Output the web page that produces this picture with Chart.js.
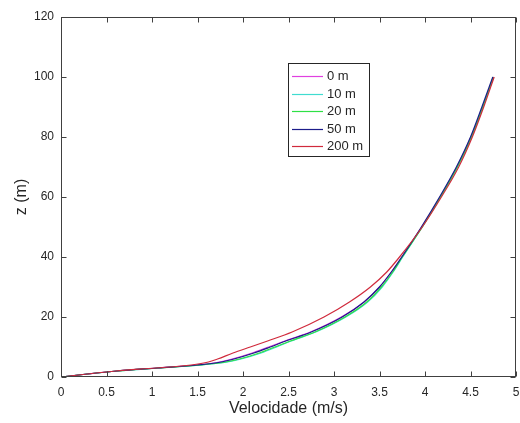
<!DOCTYPE html>
<html>
<head>
<meta charset="utf-8">
<script src="https://cdn.jsdelivr.net/npm/chart.js@4/dist/chart.umd.min.js"></script>
<style>
  html, body { margin: 0; padding: 0; background: #fff; }
</style>
</head>
<body>
<canvas id="perfilVento" width="520" height="423"></canvas>
<script>
// alturas (m) e velocidades (m/s)
const alturas = [0, 1, 2, 3, 4, 5, 6, 8, 10, 12, 15, 20, 25, 30, 35, 40, 50, 60, 70, 80, 90, 100];
const vel_0m   = [0, 0.29, 0.61, 1.05, 1.48, 1.74, 1.88, 2.10, 2.28, 2.46, 2.74, 3.08, 3.33, 3.50, 3.63, 3.745, 3.965, 4.165, 4.35, 4.505, 4.635, 4.755];
const vel_10m  = [0, 0.29, 0.62, 1.07, 1.54, 1.83, 1.98, 2.20, 2.37, 2.53, 2.80, 3.13, 3.37, 3.53, 3.65, 3.755, 3.97, 4.17, 4.355, 4.51, 4.635, 4.75];
const vel_20m  = [0, 0.29, 0.62, 1.07, 1.53, 1.81, 1.96, 2.18, 2.35, 2.52, 2.79, 3.12, 3.36, 3.52, 3.645, 3.75, 3.97, 4.17, 4.355, 4.51, 4.635, 4.75];
const vel_50m  = [0, 0.29, 0.62, 1.06, 1.50, 1.76, 1.90, 2.12, 2.30, 2.47, 2.75, 3.09, 3.33, 3.50, 3.63, 3.745, 3.96, 4.16, 4.345, 4.50, 4.625, 4.745];
const vel_200m = [0, 0.29, 0.60, 1.04, 1.43, 1.62, 1.72, 1.89, 2.08, 2.27, 2.54, 2.89, 3.17, 3.40, 3.58, 3.72, 3.97, 4.18, 4.37, 4.52, 4.645, 4.76];
const nomes = ['0 m', '10 m', '20 m', '50 m', '200 m'];

const perfis = [vel_0m, vel_10m, vel_20m, vel_50m, vel_200m];
const cores = ['#e040e0', '#40dcd0', '#2ee045', '#1c1c8a', '#d02a3c'];
const corEixo = '#404040';

Chart.defaults.font.family = "'Liberation Sans', Arial, sans-serif";
Chart.defaults.color = '#262626';

const datasets = perfis.map((v, i) => ({
  label: nomes[i],
  data: alturas.map((z, k) => ({ x: v[k], y: z })),
  borderColor: cores[i],
  backgroundColor: cores[i],
  borderWidth: 1.2,
  pointRadius: 0,
  showLine: true,
  fill: false,
  cubicInterpolationMode: 'monotone',
  order: perfis.length - 1 - i
}));

// moldura com ticks para dentro (estilo matlab) + legenda
const moldura = {
  id: 'moldura',
  afterDatasetsDraw(chart) {
    const { ctx, chartArea: a, scales: { x, y } } = chart;
    ctx.save();
    ctx.strokeStyle = corEixo;
    ctx.lineWidth = 1;
    const L = Math.round(a.left) + 0.5, R = Math.round(a.right) - 0.5;
    const T = Math.round(a.top) + 0.5, B = Math.round(a.bottom) - 0.5;
    ctx.strokeRect(L, T, R - L, B - T);
    ctx.beginPath();
    x.ticks.forEach(t => {
      const px = Math.round(x.getPixelForValue(t.value)) + 0.5;
      ctx.moveTo(px, B); ctx.lineTo(px, B - 5);
      ctx.moveTo(px, T); ctx.lineTo(px, T + 5);
    });
    y.ticks.forEach(t => {
      const py = Math.round(y.getPixelForValue(t.value)) + 0.5;
      ctx.moveTo(L, py); ctx.lineTo(L + 5, py);
      ctx.moveTo(R, py); ctx.lineTo(R - 5, py);
    });
    ctx.stroke();

    // legenda
    const bx = 288.5, by = 63.5, bw = 81, bh = 93;
    ctx.fillStyle = '#fff';
    ctx.fillRect(bx, by, bw, bh);
    ctx.strokeStyle = '#262626';
    ctx.strokeRect(bx, by, bw, bh);
    ctx.font = "13px 'Liberation Sans', Arial, sans-serif";
    ctx.textBaseline = 'middle';
    ctx.textAlign = 'left';
    chart.data.datasets.forEach((ds, i) => {
      const yy = Math.round(76 + i * 17.5) + 0.5;
      ctx.strokeStyle = ds.borderColor;
      ctx.lineWidth = 1.2;
      ctx.beginPath();
      ctx.moveTo(292, yy); ctx.lineTo(323, yy);
      ctx.stroke();
      ctx.fillStyle = '#262626';
      ctx.fillText(ds.label, 327, yy);
    });
    ctx.restore();
  }
};

const ctx_perfil = document.getElementById('perfilVento').getContext('2d');
const grafico = new Chart(ctx_perfil, {
  type: 'scatter',
  data: { datasets: datasets },
  options: {
    responsive: false,
    animation: false,
    maintainAspectRatio: false,
    layout: { padding: { top: 17, right: 4, left: 0, bottom: 0 } },
    plugins: {
      legend: { display: false },
      tooltip: { enabled: false }
    },
    scales: {
      x: {
        type: 'linear',
        min: 0, max: 5,
        grid: { display: false, drawTicks: false, tickLength: 0 },
        border: { display: false },
        ticks: { stepSize: 0.5, padding: 8, font: { size: 12 }, maxRotation: 0,
                 callback: v => String(Number(v)) },
        title: { display: true, text: 'Velocidade (m/s)', font: { size: 16 }, padding: { top: 0, bottom: 5 } },
        afterFit(s) { s.height = 46; s.paddingLeft = 0; s.paddingRight = 0; }
      },
      y: {
        type: 'linear',
        min: 0, max: 120,
        grid: { display: false, drawTicks: false, tickLength: 0 },
        border: { display: false },
        ticks: { stepSize: 20, padding: 7, font: { size: 12 } },
        title: { display: true, text: 'z (m)', font: { size: 16 }, padding: { top: 12, bottom: 0 } },
        afterFit(s) { s.width = 61; s.paddingTop = 0; s.paddingBottom = 0; }
      }
    }
  },
  plugins: [moldura]
});
</script>
</body>
</html>
